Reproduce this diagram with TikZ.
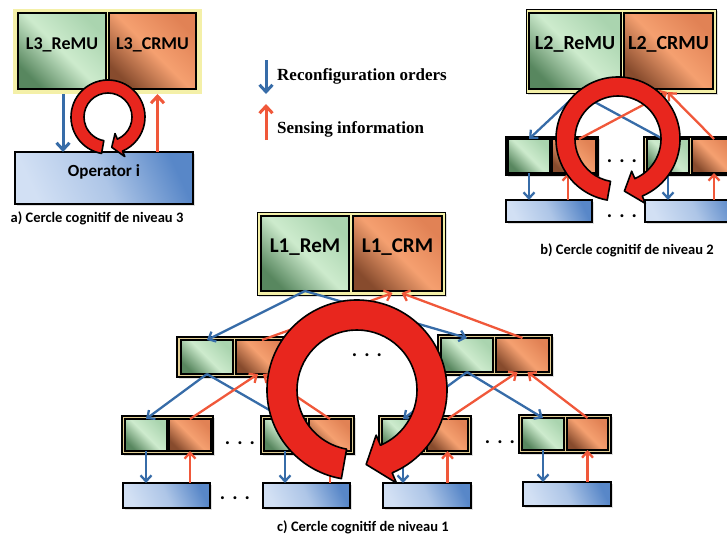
\documentclass[tikz,border=0pt]{standalone}
\usepackage{fontspec}
\setmainfont{Carlito}
\newfontfamily\legfont{Liberation Serif}
\usetikzlibrary{arrows.meta,calc,fit,shadows}
\definecolor{blueA}{RGB}{55,108,168}
\definecolor{redA}{RGB}{240,88,58}
\definecolor{ringred}{RGB}{232,38,30}
\definecolor{gtop}{RGB}{170,212,175}
\definecolor{glight}{RGB}{205,235,205}
\definecolor{gbot}{RGB}{88,135,95}
\definecolor{otop}{RGB}{225,130,85}
\definecolor{olight}{RGB}{245,160,112}
\definecolor{obot}{RGB}{135,75,45}
\definecolor{blight}{RGB}{210,224,244}
\definecolor{bdark}{RGB}{88,135,200}
\definecolor{yfr}{RGB}{244,240,168}
\definecolor{tanfr}{RGB}{228,208,150}
\newcommand{\lab}[1]{\bfseries\fontsize{#1}{#1}\selectfont}
\newcommand{\cyclearrow}[5]{%
  \pgfmathsetmacro{\crmid}{(#3+#4)/2}%
  \pgfmathsetmacro{\crhi}{#4+#5}%
  \pgfmathsetmacro{\crlo}{#3-#5}%
  \filldraw[ringarrow] ($(#1,#2)+(100:#4)$) arc[start angle=100,end angle=427,radius=#4]
   -- ($(#1,#2)+(427:\crhi)$) -- ($(#1,#2)+(443:\crmid)$) -- ($(#1,#2)+(427:\crlo)$)
   -- ($(#1,#2)+(427:#3)$) arc[start angle=427,end angle=100,radius=#3] -- cycle;}
\begin{document}
\begin{tikzpicture}[x=1pt,y=-1pt,
  base/.style={inner sep=0pt, outer sep=0pt},
  gbox/.style={base, draw=black, line width=1.1pt, top color=gtop, bottom color=gbot, middle color=glight, shading angle=-45},
  obox/.style={base, draw=black, line width=1.1pt, top color=otop, bottom color=obot, middle color=olight, shading angle=-45},
  bbox/.style={base, draw=black, line width=1.5pt, top color=bdark, bottom color=blight, middle color=blight!70!bdark, shading angle=-65,
     drop shadow={opacity=0.25, shadow xshift=1.5pt, shadow yshift=-1.5pt}},
  yframe/.style={base, fill=yfr, draw=black, line width=0.8pt, drop shadow={opacity=0.25, shadow xshift=1.5pt, shadow yshift=-1.5pt}},
  yframe3/.style={base, fill=yfr},
  pframe/.style={base, fill=tanfr, draw=black, line width=1.2pt, drop shadow={opacity=0.25, shadow xshift=1.5pt, shadow yshift=-1.5pt}},
  bluearr/.style={draw=blueA, line width=2.3pt, -{Straight Barb[length=6pt,width=11pt]}},
  blueline/.style={draw=blueA, line width=2.3pt},
  redarr/.style={draw=redA, line width=2.3pt, -{Straight Barb[length=6pt,width=11pt]}},
  bigblue/.style={draw=blueA, line width=3pt, -{Straight Barb[length=7pt,width=13pt]}},
  bigred/.style={draw=redA, line width=3pt, -{Straight Barb[length=7pt,width=13pt]}},
  ringarrow/.style={fill=ringred, draw=black, line width=1.6pt, line join=round},
  legtext/.style={font=\legfont\bfseries\fontsize{17}{20}\selectfont, inner sep=0pt},
  captext/.style={font=\lab{14.5}, inner sep=0pt},
  dotstext/.style={font=\lab{20}, inner sep=0pt}
]
\useasboundingbox (0,0) rectangle (727,538);
\clip (0,0) rectangle (727,538);

% ---------- legend ----------
\coordinate (lgb1) at (266,60); \coordinate (lgb2) at (266,94);
\coordinate (lgr1) at (266,140); \coordinate (lgr2) at (266,104);
\draw[bigblue] (lgb1) -- (lgb2);
\draw[bigred] (lgr1) -- (lgr2);
\node[legtext, anchor=west] (leg1) at (277,76) {Reconfiguration orders};
\node[legtext, anchor=west] (leg2) at (277,129) {Sensing information};

% ---------- panel a ----------
\node[yframe3, fit={(13,9) (202,94)}] (f3) {};
\node[gbox, fit={(18,13) (106,89)}, font=\lab{18}] (g3) {L3\_ReMU};
\node[obox, fit={(109,13) (196,89)}, font=\lab{18}] (o3) {L3\_CRMU};
\node[bbox, fit={(15,152) (193,204)}, font=\lab{17}] (op) {Operator i};
\coordinate (b3top) at ($(g3.south)+(1,5)$);
\coordinate (r3top) at ($(o3.south)+(5,5)$);
\draw[bigblue] (b3top) -- (b3top |- op.north);
\draw[bigred] (r3top |- op.north) -- (r3top);
\cyclearrow{108}{117}{24}{37}{6}
\node[captext] (capa) at (97,218) {a) Cercle cognitif de niveau 3};

% ---------- panel b ----------
\node[yframe, fit={(526,9) (716,93)}] (f2) {};
\node[gbox, fit={(529,13) (621,89)}, font=\lab{20}] (g2) {L2\_ReMU};
\node[obox, fit={(624,13) (713,89)}, font=\lab{20}] (o2) {L2\_CRMU};
\node[pframe, fit={(506,137) (598,175)}] (pl2) {};
\node[gbox, fit={(508,139) (550,173)}] (gl2) {};
\node[obox, fit={(552,139) (596,173)}] (ol2) {};
\node[pframe, fit={(644,137) (745,175)}] (pr2) {};
\node[gbox, fit={(647,139) (689,173)}] (gr2) {};
\node[obox, fit={(692,139) (736,173)}] (or2) {};
\node[bbox, fit={(506,200) (592,222)}] (bl2) {};
\node[bbox, fit={(645,200) (745,222)}] (br2) {};
\coordinate (r2l) at ($(ol2.south)+(-6,0)$);
\draw[bluearr] (gl2.south) -- (gl2.south |- bl2.north);
\draw[redarr] (r2l |- bl2.north) -- (r2l);
\draw[bluearr] (gr2.south) -- (gr2.south |- br2.north);
\draw[redarr] (or2.south |- br2.north) -- (or2.south);
\coordinate (c2b) at ($(g2.south)+(3,4)$);
\coordinate (c2r) at ($(o2.south)+(-1,3)$);
\draw[bluearr] (c2b) -- (gl2.north);
\draw[blueline] (c2b) -- ($(gr2.north)+(-5,0)$);
\draw[redarr] ($(ol2.north)+(5,0)$) -- (c2r);
\draw[redarr] (or2.north) -- (c2r);
\cyclearrow{618}{139}{43}{62}{8}
\node[dotstext] (d2a) at (622,161) {.\hspace{7pt}.\hspace{7pt}.};
\node[dotstext] (d2b) at (622,216) {.\hspace{7pt}.\hspace{7pt}.};
\node[captext] (capb) at (627,250) {b) Cercle cognitif de niveau 2};

% ---------- panel c ----------
\node[yframe, fit={(257,212) (445,295)}] (f1) {};
\node[gbox, fit={(261,216) (349,291)}, font=\lab{21}] (g1) {L1\_ReM};
\node[obox, fit={(353,216) (442,291)}, font=\lab{21}] (o1) {L1\_CRM};
% middle row
\node[pframe, fit={(177,337) (291,377)}] (pml) {};
\node[gbox, fit={(181,340) (233,374)}] (gml) {};
\node[obox, fit={(236,340) (288,374)}] (oml) {};
\node[pframe, fit={(438,335) (552,375)}] (pmr) {};
\node[gbox, fit={(441,338) (493,372)}] (gmr) {};
\node[obox, fit={(496,338) (549,372)}] (omr) {};
% bottom pairs
\node[pframe, fit={(122,416) (213,454)}] (pp1) {};
\node[gbox, fit={(125,419) (167,451)}] (gp1) {};
\node[obox, fit={(169,419) (211,451)}] (op1) {};
\node[pframe, fit={(261,416) (354,454)}] (pp2) {};
\node[gbox, fit={(264,419) (306,451)}] (gp2) {};
\node[obox, fit={(309,419) (351,451)}] (op2) {};
\node[pframe, fit={(379,416) (471,454)}] (pp3) {};
\node[gbox, fit={(382,419) (424,451)}] (gp3) {};
\node[obox, fit={(427,419) (468,451)}] (op3) {};
\node[pframe, fit={(519,415) (611,453)}] (pp4) {};
\node[gbox, fit={(522,418) (564,450)}] (gp4) {};
\node[obox, fit={(567,418) (608,450)}] (op4) {};
% operators
\node[bbox, fit={(123,483) (210,508)}] (bb1) {};
\node[bbox, fit={(263,483) (350,508)}] (bb2) {};
\node[bbox, fit={(383,483) (471,508)}] (bb3) {};
\node[bbox, fit={(523,482) (611,506)}] (bb4) {};
% top level connectors
\draw[bluearr] (g1.south) -- (gml.north);
\draw[bluearr] (g1.south) -- (gmr.north);
\draw[redarr] (oml.north) -- ($(o1.south)+(-5,2)$);
\draw[redarr] (omr.north) -- ($(o1.south)+(4,2)$);
% middle left connectors
\draw[bluearr] (gml.south) -- (gp1.north);
\draw[bluearr] (gml.south) -- (gp2.north);
\draw[redarr] (op1.north) -- ($(oml.south)+(-4,0)$);
\draw[redarr] (op2.north) -- ($(oml.south)+(1,0)$);
% middle right connectors
\draw[bluearr] (gmr.south) -- (gp3.north);
\draw[bluearr] (gmr.south) -- (gp4.north);
\draw[redarr] (op3.north) -- ($(omr.south)+(-5,0)$);
\draw[redarr] (op4.north) -- ($(omr.south)+(5,0)$);
% pair to operator
\foreach \i in {1,2,3,4}{
  \draw[bluearr] (gp\i.south) -- (gp\i.south |- bb\i.north);
  \draw[redarr] (op\i.south |- bb\i.north) -- (op\i.south);
}
\cyclearrow{357}{390}{60}{90}{11}
\node[dotstext] (d1a) at (367,355) {.\hspace{7pt}.\hspace{7pt}.};
\node[dotstext] (d1b) at (240,443) {.\hspace{7pt}.\hspace{7pt}.};
\node[dotstext] (d1c) at (235,498) {.\hspace{7pt}.\hspace{7pt}.};
\node[dotstext] (d1d) at (500,442) {.\hspace{7pt}.\hspace{7pt}.};
\node[captext] (capc) at (363,527) {c) Cercle cognitif de niveau 1};
\end{tikzpicture}
\end{document}
